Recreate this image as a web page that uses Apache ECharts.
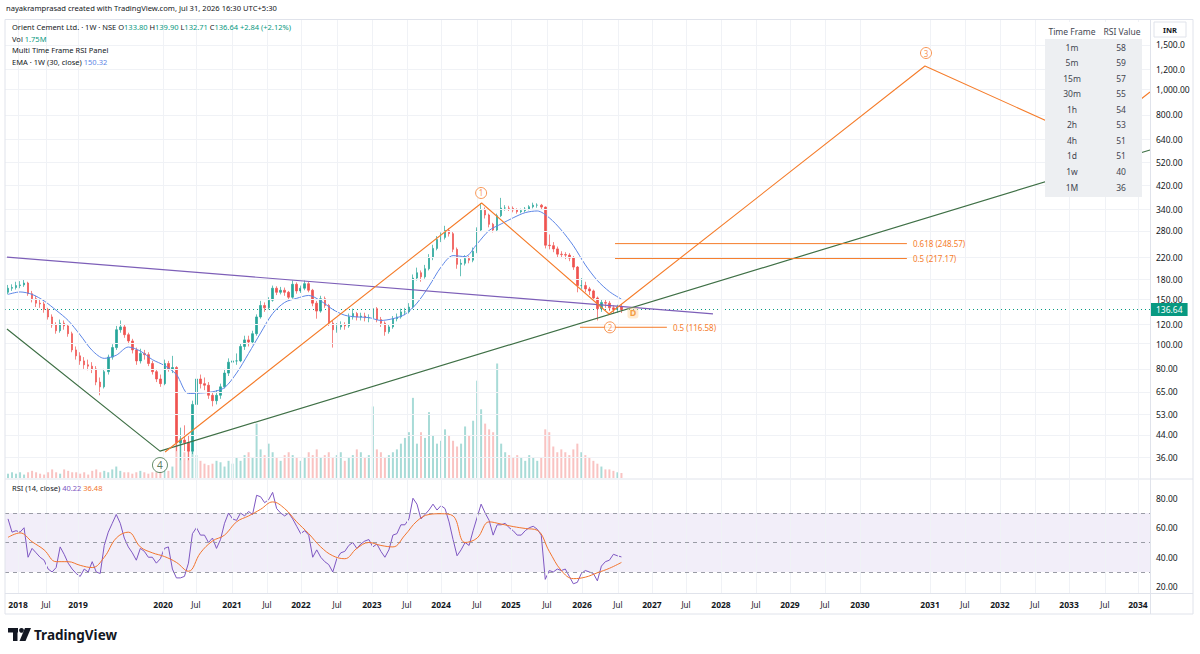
<!DOCTYPE html>
<html><head><meta charset="utf-8">
<script src="https://cdn.jsdelivr.net/npm/echarts@6/dist/echarts.min.js"></script>
<style>html,body{margin:0;padding:0;background:#fff}#c{width:1200px;height:654px}</style>
</head><body><div id="c"></div>
<script>
// ---------------- DATA ----------------
const barStartWeek = 6, barStepWeeks = 3, firstOpen = 160;
const closes = [166,167,170,171,174,158,151,145,144,137,
128,119,113,121,118,110,95,90,86,83,
82,80,71,68,78,89,97,114,117,109,
103,95,86,92,91,84,78,73,70,84,
80,81,41,42,41,38,58,73,70,69,
63,60,63,68,77,85,86,86,98,104,
102,110,128,142,139,149,166,160,163,160,
153,172,162,166,173,163,145,135,151,142,
121,114,117,119,118,128,132,128,129,127,
127,138,125,121,112,117,126,128,134,134,
140,182,191,184,198,219,238,258,263,280,
272,236,206,208,217,214,232,281,336,322,
296,281,320,343,343,342,337,332,335,340,
347,352,352,346,245,244,237,226,225,224,
218,201,170,170,165,162,152,138,146,145,
139,137,140,136.64];
const highs = [171,172,176,177,180,176,162,155,150,147,
139,131,122,125,124,120,112,98,93,89,
87,85,82,74,80,91,100,118,124,119,
111,105,97,96,95,93,86,80,76,87,
86,90,82,47,48,44,60,76,76,74,
71,65,66,70,80,88,91,92,101,108,
108,113,131,148,146,153,170,169,168,167,
162,178,175,170,178,176,165,148,155,154,
144,124,121,123,122,132,138,134,133,133,
131,142,140,128,123,120,129,132,138,139,
145,188,200,195,205,226,246,266,275,292,
286,276,240,216,224,222,240,288,359,345,
326,300,326,376,352,350,348,342,341,346,
352,360,358,356,348,270,252,242,232,230,
228,222,203,182,176,168,164,154,150,150,
148,142,143,144];
const lows = [157,162,164,166,168,155,146,140,139,133,
125,116,110,111,114,107,93,87,83,80,
79,77,69,63,67,76,87,95,111,106,
100,92,83,84,87,82,76,71,68,69,
78,77,38,35,38,35,37,56,67,66,
61,57,58,61,67,75,82,83,85,95,
98,100,108,126,134,137,147,156,157,155,
149,151,158,159,163,160,141,126,133,139,
118,97,111,114,114,116,125,124,124,123,
122,125,122,117,108,110,115,123,126,130,
132,138,178,176,181,195,214,234,252,258,
265,230,198,185,204,208,210,228,277,312,
288,275,278,316,335,334,330,326,327,330,
336,342,344,340,238,236,230,220,218,216,
212,196,160,165,160,156,148,124,134,139,
135,132,133,132.71];
const volumes = [1.5,2,1.5,2,1.2,2,2.5,2,1.5,1.2,
2,3,2,1.5,3,2.5,2,2,1.5,2,
1.2,2.5,3,2,2.5,2,3,4,2.5,2,
2,1.5,2,2.5,2,1.5,2,2,2.5,3,
2.5,4,12,14,9,11,10,8,6,5,
4.5,5,6,5.5,4,6,5,7,6,8,
9,7,19,10,8,12,9,7,6,8,
9,8,7,6,7,9,8,10,7,8,
9,7,8,9,6,7,8,10,9,7,
8,25,10,9,7,8,9,10,12,14,
16,28,12,16,14,23,15,12,13,17,
15,13,11,12,18,15,20,34,24,19,
17,16,40,12,9,8,7,8,7,6,
8,7,6,7,17,16,11,9,10,9,
8,10,12,9,8,7,6,5,4,3,
3,2.5,2,1.75];
// EMA(30) read every 3rd bar
const emaValues = [157,160.5,157,148,136,124,108.7,94.5,88,90.5,
97.5,94,87,82.5,76,64,64.3,65,67.5,77,
92,110.7,132,146,151.5,155.5,148,137,130,128,
127.3,124,126,131,145,169,201,223,221,248,
280,297,314,329,334,314,281,244,205,178,
161,150.32];
const rsiValues = [66,57,58,57,60,40,46,43,40,38,
32,30,33,47,42,36,32,29,27,32,
30,37,30,29,48,57,63,69,63,53,
47,43,38,46,44,40,40,36,39,46,
47,32,26,26,27,36,56,60,55,55,
50,53,46,52,63,70,66,65,70,68,
71,69,82,81,77,79,84,73,70,68,
70,66,61,56,58,55,40,45,40,37,
35,30,39,43,44,48,50,46,49,51,
52,47,49,44,40,45,55,56,62,62,
66,80,76,66,69,72,76,72,75,73,
64,52,41,45,50,48,58,67,76,70,
65,55,62,62,63,60,58,55,55,58,
60,61,59,55,25,31,30,32,31,32,
27,22,23,29,31,30,29,24,34,37,
38,42,41,40.22];
// RSI-based MA read every 3rd bar
const rsiMaValues = [53.5,56.5,50.5,45,37,37,34.5,33,40,53,
57,47,43,40.5,36.5,30.5,43,51,55,64,
68,72.5,77.5,73,64,56,47,41,39,46,
50,48,47,55,64.5,69,69.5,68,50,53,
64,62.5,60.8,59.5,58.3,44,31,25.5,26.5,29.5,
32.5,36.48];

const priceTicks = [1500,1200,1000,800,640,520,420,340,280,220,180,150,120,100,80,65,53,44,36];
const priceTickLabels = ['1,500.0','1,200.0','1,000.00','800.00','640.00','520.00','420.00','340.00','280.00','220.00','180.00','150.00','120.00','100.00','80.00','65.00','53.00','44.00','36.00'];
const rsiTicks = [80,60,40,20];
const rsiTickLabels = ['80.00','60.00','40.00','20.00'];
const xTickWeeks = [13.5,34.4,58.4,122,146.6,173.6,199.8,225.2,252.2,278.3,304.5,330,356.9,382.3,409.3,435.5,462.4,487.8,513.3,539.5,565.7,591.1,617.3,643.5,695.9,722,748.2,774.4,799.9,826.8,851.5];
const xTickLabels = ['2018','Jul','2019','2020','Jul','2021','Jul','2022','Jul','2023','Jul','2024','Jul','2025','Jul','2026','Jul','2027','Jul','2028','Jul','2029','Jul','2030','2031','Jul','2032','Jul','2033','Jul','2034'];

const tfLabels = ['1m','5m','15m','30m','1h','2h','4h','1d','1w','1M'];
const tfRsi = [58,59,57,55,54,53,51,51,40,36];

// drawings: [week, price]
const purpleLine = [[5.2,220],[533.5,131.5]];
const greenLine = [[5.2,114.8],[119.7,38.0],[860.5,580]];
const orangeWave = [[123.5,37.7],[360.4,359],[455.7,131.5],[692.1,1240],[814.8,635],[860.5,980]];
const fibLevels = [
  {ratio:'0.618', price:248.57, from:460.2, to:678.6},
  {ratio:'0.5', price:217.17, from:460.2, to:678.6},
  {ratio:'0.5', price:116.58, from:434, to:499}
];
const waveMarks = [{n:'1', w:360, p:393},{n:'2', w:456.4, p:116.5},{n:'3', w:692.9, p:1395},{n:'4', w:119.7, p:33.5}];
const dMark = {n:'D', w:473.6, p:132.7};

const hdr = {user:'nayakramprasad created with TradingView.com, Jul 31, 2026 16:30 UTC+5:30',
  title:'Orient Cement Ltd. · 1W · NSE', o:'133.80', h:'139.90', l:'132.71', c:'136.64', chg:'+2.84 (+2.12%)',
  vol:'1.75M', ind:'Multi Time Frame RSI Panel', ema:'EMA · 1W (30, close)', emaV:'150.32',
  rsi:'RSI (14, close)', rsiV:'40.22', rsiMaV:'36.48'};

// ---------------- BUILD ----------------
const L = Math.log;
const FF = '"Noto Sans", sans-serif';
const TXT = '#131722';
const UP = '#26a69a', DN = '#ef5350', OR = '#f57c2a';
const barWeek = i => barStartWeek + barStepWeeks * i;
const opens = closes.map((c,i)=> i===0 ? firstOpen : closes[i-1]);
const candleData = closes.map((c,i)=>[barWeek(i), L(opens[i]), L(c), L(lows[i]), L(highs[i])]);
const volData = volumes.map((v,i)=>({value:[barWeek(i), v], itemStyle:{color: closes[i]>=opens[i] ? 'rgba(38,166,154,0.4)' : 'rgba(239,83,80,0.35)'}}));
const emaData = emaValues.map((v,k)=>[barWeek(3*k), L(v)]);
const rsiData = rsiValues.map((v,i)=>[barWeek(i), v]);
const rsiMaData = rsiMaValues.map((v,k)=>[barWeek(3*k), v]);
const lp = arr => arr.map(([w,p])=>[w, L(p)]);
function nearestLabel(v, vals, labels){ let b=0, d=Infinity; vals.forEach((t,i)=>{const e=Math.abs(t-v); if(e<d){d=e;b=i;}}); return labels[b]; }

const XMIN = 3.74, XMAX = 860.5;
const YMIN = 3.3945, YMAX = 7.5394;

function lineSeries(data, color, width, extra){
  return Object.assign({type:'line', xAxisIndex:0, yAxisIndex:0, data, symbol:'none', silent:true, z:5,
    lineStyle:{color, width}}, extra||{});
}

const series = [
  {type:'line', xAxisIndex:0, yAxisIndex:0, data:[[XMIN, L(100)]], symbol:'none', lineStyle:{opacity:0}, silent:true, z:0,
    markLine:{silent:true, symbol:'none', label:{show:false}, lineStyle:{color:'#f0f2f6', width:1, type:'solid'},
      data:[...xTickWeeks.map(w=>({xAxis:w})), ...priceTicks.map(p=>({yAxis:L(p)}))]}},
  {type:'line', xAxisIndex:1, yAxisIndex:2, data:[[XMIN, 50]], symbol:'none', lineStyle:{opacity:0}, silent:true, z:0,
    markLine:{silent:true, symbol:'none', label:{show:false}, lineStyle:{color:'#f0f2f6', width:1, type:'solid'},
      data:xTickWeeks.map(w=>({xAxis:w}))}},
  {type:'bar', xAxisIndex:0, yAxisIndex:1, data:volData, barWidth:2, silent:true, z:1},
  {type:'candlestick', xAxisIndex:0, yAxisIndex:0, data:candleData, encode:{x:0, y:[1,2,3,4]}, barWidth:2, z:3, silent:true,
    itemStyle:{color:UP, color0:DN, borderColor:UP, borderColor0:DN, borderWidth:0.7},
    markLine:{silent:true, symbol:'none', z:2,
      lineStyle:{color:'#089981', type:[1,3], width:1},
      label:{show:true, position:'end', distance:1, formatter: closes[closes.length-1].toFixed(2), backgroundColor:'#089981', color:'#fff', padding:[2,5,2,5], fontSize:8.5, fontFamily:FF},
      data:[{yAxis:L(closes[closes.length-1])}]}},
  lineSeries(emaData, '#5d86e6', 1, {smooth:0.3, z:4}),
  lineSeries(lp(purpleLine), '#7d5fb8', 1.2),
  lineSeries(lp(greenLine), '#3f7046', 1.2),
  lineSeries(lp(orangeWave), OR, 1.1),
  ...fibLevels.map(f=>lineSeries([[f.from, L(f.price)],[f.to, L(f.price)]], OR, 1, {
    endLabel:{show:true, formatter:`${f.ratio} (${f.price.toFixed(2)})`, color:OR, fontSize:8, fontFamily:FF, distance:6}})),
  {type:'scatter', xAxisIndex:0, yAxisIndex:0, z:7, silent:true,
    data: waveMarks.map(m=>{const g=m.n==='4'; return {value:[m.w, L(m.p)], name:m.n, symbolSize:g?15:11,
      itemStyle:{color:'#fff', borderColor:g?'#3f7046':OR, borderWidth:1},
      label:{color:g?'#2f5a36':OR, fontSize:g?10:8}};}),
    label:{show:true, position:'inside', formatter:'{b}', fontFamily:FF}},
  {type:'scatter', xAxisIndex:0, yAxisIndex:0, z:7, silent:true, symbol:'roundRect', symbolSize:[11,11],
    data:[{value:[dMark.w, L(dMark.p)], name:dMark.n}],
    itemStyle:{color:'rgba(255,210,150,0.55)'},
    label:{show:true, position:'inside', formatter:'{b}', color:'#f08a1c', fontSize:9, fontWeight:'bold', fontFamily:FF}},
  {type:'line', xAxisIndex:1, yAxisIndex:2, data:rsiData, symbol:'none', silent:true, z:4,
    lineStyle:{color:'#7e57c2', width:1},
    markArea:{silent:true, itemStyle:{color:'rgba(126,87,194,0.1)'}, data:[[{yAxis:30},{yAxis:70}]]},
    markLine:{silent:true, symbol:'none', label:{show:false}, lineStyle:{color:'#9a9ca6', type:[4,4], width:1},
      data:[{yAxis:70},{yAxis:50},{yAxis:30}]}},
  {type:'line', xAxisIndex:1, yAxisIndex:2, data:rsiMaData, symbol:'none', smooth:0.4, silent:true, z:5,
    lineStyle:{color:'#f2752e', width:1}}
];

const FS = 7.5;
const G = [];
function txt(x, y, text, o){ G.push({type:'text', x, y, z:100, silent:true,
  style:Object.assign({text, fill:TXT, fontSize:FS, fontFamily:FF, verticalAlign:'middle', align:'left'}, o||{})}); }
function rich(x, y, text, richMap){ G.push({type:'text', x, y, z:100, silent:true,
  style:{text, rich:richMap, verticalAlign:'middle', align:'left', fontSize:FS, fontFamily:FF}}); }
const R = {a:{fill:TXT, fontSize:FS, fontFamily:FF}, b:{fill:'#089981', fontSize:FS, fontFamily:FF},
  e:{fill:'#5d86e6', fontSize:FS, fontFamily:FF}, p:{fill:'#7e57c2', fontSize:FS, fontFamily:FF}, q:{fill:'#f2752e', fontSize:FS, fontFamily:FF}};
G.push({type:'rect', z:90, silent:true, shape:{x:5, y:19.5, width:1188, height:594.5}, style:{fill:'none', stroke:'#e0e3eb', lineWidth:1}});
G.push({type:'line', z:90, silent:true, shape:{x1:5, y1:479, x2:1193, y2:479}, style:{stroke:'#e0e3eb', lineWidth:1}});
G.push({type:'line', z:90, silent:true, shape:{x1:5, y1:593.5, x2:1193, y2:593.5}, style:{stroke:'#e0e3eb', lineWidth:1}});
G.push({type:'line', z:90, silent:true, shape:{x1:1150.5, y1:19.5, x2:1150.5, y2:614}, style:{stroke:'#e0e3eb', lineWidth:1}});
txt(6, 8, hdr.user, {fontSize:7.6});
rich(12, 27, `{a|${hdr.title}} {a|O}{b|${hdr.o}} {a|H}{b|${hdr.h}} {a|L}{b|${hdr.l}} {a|C}{b|${hdr.c}} {b|${hdr.chg}}`, R);
rich(12, 39, `{a|Vol} {b|${hdr.vol}}`, R);
txt(12, 50, hdr.ind);
rich(12, 62, `{a|${hdr.ema}} {e|${hdr.emaV}}`, R);
rich(12, 488, `{a|${hdr.rsi}} {p|${hdr.rsiV}} {q|${hdr.rsiMaV}}`, R);
G.push({type:'rect', z:95, silent:true, shape:{x:1154, y:22, width:32, height:15}, style:{fill:'#fff', stroke:'#e0e3eb'}});
txt(1170, 30, 'INR', {align:'center', fontSize:7.5, fontWeight:'bold'});
G.push({type:'rect', z:95, silent:true, shape:{x:1045, y:22, width:97, height:17}, style:{fill:'#ffffff'}});
G.push({type:'rect', z:95, silent:true, shape:{x:1045, y:39, width:97, height:158}, style:{fill:'#edeff2'}});
txt(1072, 31.5, 'Time Frame', {align:'center', fontSize:8.5, fill:'#434651'});
txt(1122, 31.5, 'RSI Value', {align:'center', fontSize:8.5, fill:'#434651'});
tfLabels.forEach((t,k)=>{ const y = 47 + 15.56*k;
  txt(1072, y, t, {align:'center', fontSize:8.5, fill:'#434651'});
  txt(1121, y, String(tfRsi[k]), {align:'center', fontSize:8.5, fill:'#434651'}); });
G.push({type:'rect', z:100, silent:true, shape:{x:8, y:628, width:10, height:4.5}, style:{fill:TXT}});
G.push({type:'rect', z:100, silent:true, shape:{x:13, y:628, width:4.5, height:13}, style:{fill:TXT}});
G.push({type:'circle', z:100, silent:true, shape:{cx:21.5, cy:630.3, r:2.4}, style:{fill:TXT}});
G.push({type:'polygon', z:100, silent:true, shape:{points:[[25,628],[31,628],[25.5,641],[19.5,641]]}, style:{fill:TXT}});
txt(34, 634.5, 'TradingView', {fontSize:13.5, fontWeight:'bold'});

const option = {
  animation:false,
  backgroundColor:'#fff',
  grid:[{left:5, top:20, width:1145, height:458}, {left:5, top:480, width:1145, height:113}],
  xAxis:[
    {type:'value', gridIndex:0, min:XMIN, max:XMAX, show:false},
    {type:'value', gridIndex:1, min:XMIN, max:XMAX,
      axisLine:{show:false}, axisTick:{show:false}, splitLine:{show:false},
      axisLabel:{customValues:xTickWeeks, margin:7, formatter:v=>{const s=nearestLabel(v, xTickWeeks, xTickLabels); return s==='Jul'?`{m|${s}}`:`{y|${s}}`;},
        rich:{y:{fontSize:8.5, fontWeight:'bold', color:TXT, fontFamily:FF}, m:{fontSize:8, color:TXT, fontFamily:FF}}}}
  ],
  yAxis:[
    {type:'value', gridIndex:0, position:'right', min:YMIN, max:YMAX,
      axisLine:{show:false}, axisTick:{show:false}, splitLine:{show:false},
      axisLabel:{customValues:priceTicks.map(L), margin:6, color:TXT, fontSize:8.5, fontFamily:FF,
        formatter:v=>nearestLabel(v, priceTicks.map(L), priceTickLabels)}},
    {type:'value', gridIndex:0, min:0, max:160, show:false},
    {type:'value', gridIndex:1, position:'right', min:15.76, max:92.37,
      axisLine:{show:false}, axisTick:{show:false}, splitLine:{show:false},
      axisLabel:{customValues:rsiTicks, margin:6, color:TXT, fontSize:8.5, fontFamily:FF,
        formatter:v=>nearestLabel(v, rsiTicks, rsiTickLabels)}}
  ],
  series,
  graphic:G
};
const chart = echarts.init(document.getElementById('c'), null, {renderer:'svg'});
chart.setOption(option);
</script>
</body></html>
